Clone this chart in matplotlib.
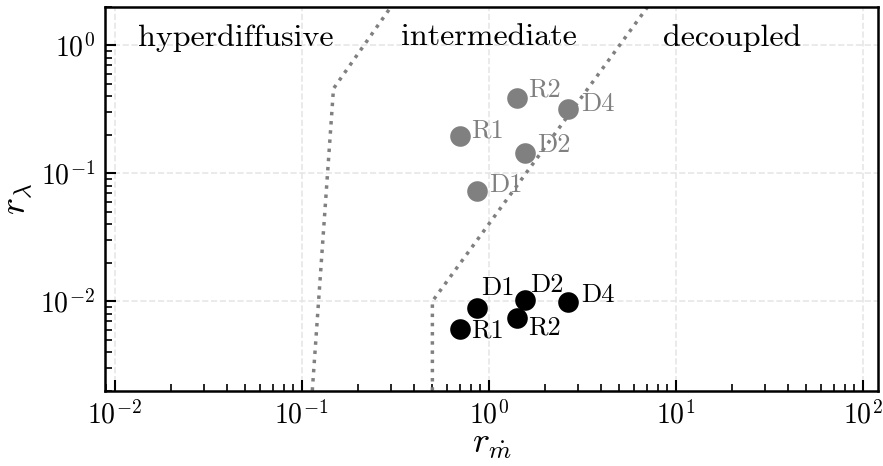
import matplotlib
matplotlib.use("Agg")
import matplotlib.pyplot as plt
import numpy as np

plt.rcParams['font.family'] = ['cmr10', 'DejaVu Serif']
plt.rcParams['mathtext.fontset'] = 'cm'
plt.rcParams['axes.formatter.use_mathtext'] = True
plt.rcParams['axes.unicode_minus'] = False

# ---- data ----
labels = ["R1", "R2", "D1", "D2", "D4"]
r_mdot = [0.70, 1.41, 0.87, 1.56, 2.67]
r_lambda_gray = [0.196, 0.39, 0.073, 0.144, 0.32]
r_lambda_black = [0.0061, 0.0074, 0.0089, 0.0102, 0.0098]

# regime boundaries
left_bx = [0.114, 0.148, 0.30]
left_by = [0.002, 0.46, 2.0]
right_bx = [0.5, 0.5, 7.07]
right_by = [0.002, 0.01, 2.0]

regions = ["hyperdiffusive", "intermediate", "decoupled"]
region_x = [0.0445, 1.0, 20.0]
region_y = [1.15, 1.15, 1.15]

# ---- label offsets (points) ----
gray_off = {"R1": (8.5, 4), "R2": (8.5, 6), "D1": (8.5, 4), "D2": (9, 6), "D4": (9, 3)}
black_off = {"R1": (8.5, -1.5), "R2": (8.5, -7), "D1": (3, 14), "D2": (4, 11), "D4": (9, 5)}

fig = plt.figure(figsize=(8.83, 4.66), dpi=100)
ax = fig.add_axes([0.119, 0.1616, 0.875, 0.8234])
ax.set_xscale('log')
ax.set_yscale('log')
ax.set_xlim(10**-2.051, 10**2.08)
ax.set_ylim(0.002, 2.0)

ax.grid(True, which='major', linestyle='--', color='#e6e6e6', linewidth=1.2, zorder=0)
ax.set_axisbelow(True)

ax.plot(left_bx, left_by, linestyle=':', color='gray', linewidth=2.5, zorder=2)
ax.plot(right_bx, right_by, linestyle=':', color='gray', linewidth=2.5, zorder=2)

ax.scatter(r_mdot, r_lambda_gray, s=220, color='gray', zorder=3, linewidths=0)
ax.scatter(r_mdot, r_lambda_black, s=220, color='black', zorder=3, linewidths=0)

for lab, x, yg, yb in zip(labels, r_mdot, r_lambda_gray, r_lambda_black):
    ax.annotate(lab, (x, yg), xytext=gray_off[lab], textcoords='offset points',
                ha='left', va='center', fontsize=19, color='gray', zorder=4)
    ax.annotate(lab, (x, yb), xytext=black_off[lab], textcoords='offset points',
                ha='left', va='center', fontsize=19, color='black', zorder=4)

for t, x, y in zip(regions, region_x, region_y):
    ax.text(x, y, t, ha='center', va='center', fontsize=23)

ax.set_xlabel(r'$r_{\dot{m}}$', fontsize=26, labelpad=0)
ax.set_ylabel(r'$r_{\lambda}$', fontsize=26, labelpad=4)

ax.tick_params(which='both', direction='in', top=False, right=False, labelsize=20)
ax.tick_params(which='major', length=8, width=1.5, pad=7)
ax.tick_params(which='minor', length=5, width=1.2)
for sp in ax.spines.values():
    sp.set_linewidth(1.8)

fig.savefig("out.png", dpi=100)
